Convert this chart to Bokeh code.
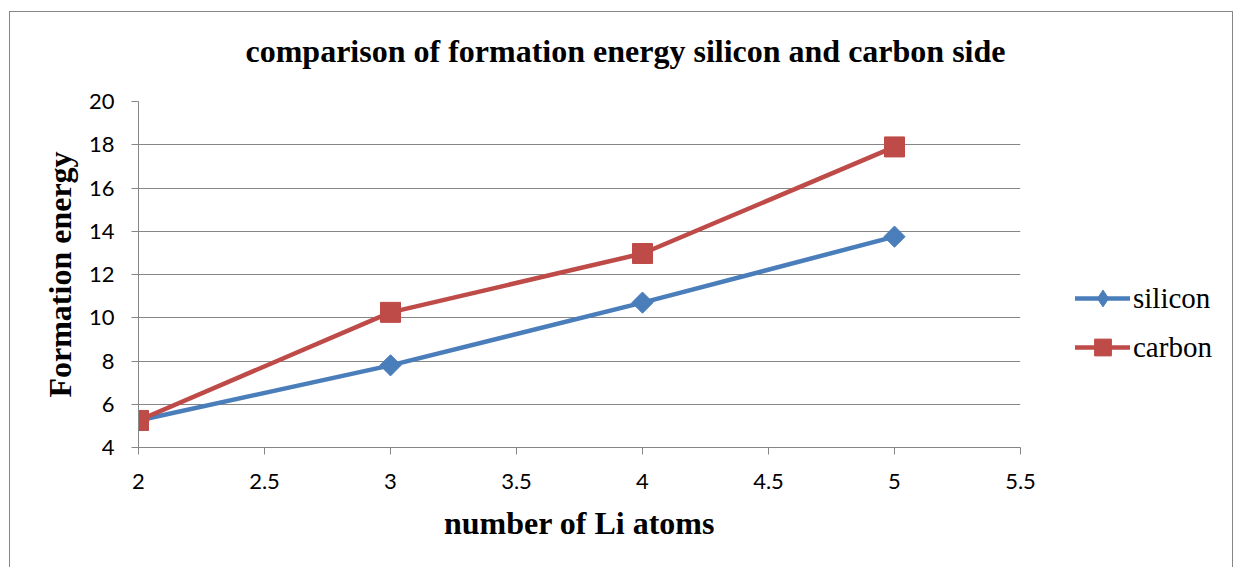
import math
from bokeh.plotting import figure
from bokeh.layouts import row
from bokeh.models import Legend, LegendItem, FixedTicker, Range1d, LinearAxis
from bokeh.embed import file_html
from bokeh.resources import INLINE

# ---- data ----
li_atoms = [2, 3, 4, 5]
silicon = [5.25, 7.8, 10.7, 13.75]
carbon = [5.25, 10.25, 12.97, 17.9]
x_ticks = [2, 2.5, 3, 3.5, 4, 4.5, 5, 5.5]
x_tick_labels = ["2", "2.5", "3", "3.5", "4", "4.5", "5", "5.5"]
y_ticks = [4, 6, 8, 10, 12, 14, 16, 18, 20]
y_tick_labels = ["4", "6", "8", "10", "12", "14", "16", "18", "20"]
title_text = "comparison of formation energy silicon and carbon side"
x_label = "number of Li atoms"
y_label = "Formation energy"
series_names = ["silicon", "carbon"]

BLUE = "#4A7EBB"
RED = "#BE4B48"
GRAY = "#868686"
BORDER = "1px solid #868686"
SERIF = "Liberation Serif"
SANS = "Lato"

# ---- main chart ----
p = figure(width=1050, height=556, output_backend="svg", toolbar_location=None,
           x_range=Range1d(2, 5.5), y_range=Range1d(4, 20),
           min_border_left=128, min_border_right=40,
           min_border_top=89, min_border_bottom=121)
p.styles = {"border-top": BORDER, "border-left": BORDER}
p.outline_line_color = None
p.background_fill_color = "white"
p.border_fill_color = "white"

xax = p.below[0]
yax = p.left[0]

# invisible spacer between frame and title (one hidden tick, no label)
spacer = LinearAxis(ticker=FixedTicker(ticks=[3.5], minor_ticks=[]), axis_line_color=None,
                    major_tick_line_color=None, minor_tick_line_color=None,
                    major_tick_out=31, major_tick_in=0, minor_tick_out=0,
                    major_label_standoff=0, major_label_text_font_size="1px",
                    major_label_overrides={3.5: ""})
p.add_layout(spacer, "above")

# title
p.title.text = title_text
p.title.align = "left"
p.title.offset = 107
p.title.vertical_align = "top"
p.title.standoff = 0
p.title.text_font = SERIF
p.title.text_font_size = "32px"
p.title.text_font_style = "bold"
p.title.text_color = "black"

# axes
xax.ticker = FixedTicker(ticks=x_ticks)
xax.major_label_overrides = {t: l for t, l in zip(x_ticks, x_tick_labels)}
yax.ticker = FixedTicker(ticks=y_ticks)
yax.major_label_overrides = {t: l for t, l in zip(y_ticks, y_tick_labels)}
for ax in (xax, yax):
    ax.axis_line_color = GRAY
    ax.axis_line_width = 1
    ax.major_tick_line_color = GRAY
    ax.major_tick_out = 7
    ax.major_tick_in = 0
    ax.minor_tick_line_color = None
    ax.major_label_text_font = SANS
    ax.major_label_text_font_size = "22px"
    ax.major_label_text_color = "black"
    ax.axis_label_text_font = SERIF
    ax.axis_label_text_font_size = "32px"
    ax.axis_label_text_font_style = "bold"
    ax.axis_label_text_color = "black"
xax.axis_label = x_label
yax.axis_label = y_label
xax.major_label_standoff = 19
yax.major_label_standoff = 17
xax.axis_label_standoff = 13
yax.axis_label_standoff = 8

p.xgrid.visible = False
p.ygrid.ticker = FixedTicker(ticks=y_ticks)
p.ygrid.grid_line_color = GRAY
p.ygrid.grid_line_width = 1

# series
si_line = dict(line_width=4.5, line_color=BLUE, line_join="round", line_cap="round")
ca_line = dict(line_width=4.5, line_color=RED, line_join="round", line_cap="round")
si_mark = dict(marker="square", angle=math.pi / 4, size=15, fill_color=BLUE, line_color=BLUE)
ca_mark = dict(marker="square", size=20, fill_color=RED, line_color=RED)

p.line(li_atoms, silicon, **si_line)
p.scatter(li_atoms, silicon, **si_mark)
p.line(li_atoms, carbon, **ca_line)
p.scatter(li_atoms, carbon, **ca_mark)

# ---- legend panel (hidden copies of the series supply the legend glyphs) ----
q = figure(width=174, height=556, output_backend="svg", toolbar_location=None,
           x_range=Range1d(2, 5.5), y_range=Range1d(4, 20),
           x_axis_type=None, y_axis_type=None, min_border=0)
q.styles = {"border-top": BORDER, "border-right": BORDER}
q.outline_line_color = None
q.background_fill_color = "white"
q.border_fill_color = "white"
lg_si_l = q.line(li_atoms, silicon, visible=False, **si_line)
lg_si_m = q.scatter(li_atoms, silicon, visible=False, marker="diamond",
                    fill_color=BLUE, line_color=BLUE)
lg_ca_l = q.line(li_atoms, carbon, visible=False, **ca_line)
lg_ca_m = q.scatter(li_atoms, carbon, visible=False, **ca_mark)

legend = Legend(items=[LegendItem(label=series_names[0], renderers=[lg_si_l, lg_si_m]),
                       LegendItem(label=series_names[1], renderers=[lg_ca_l, lg_ca_m])],
                location=(16, 79))
legend.border_line_color = None
legend.background_fill_alpha = 0
legend.inactive_fill_alpha = 0
legend.padding = 0
legend.margin = 0
legend.spacing = 7
legend.glyph_width = 55
legend.glyph_height = 42
legend.label_standoff = 3
legend.label_text_font = SERIF
legend.label_text_font_size = "29px"
legend.label_text_color = "black"
q.add_layout(legend, "center")

layout = row(p, q)
layout.margin = (11, 0, 0, 9)

open("out.html", "w").write(file_html(layout, INLINE))
